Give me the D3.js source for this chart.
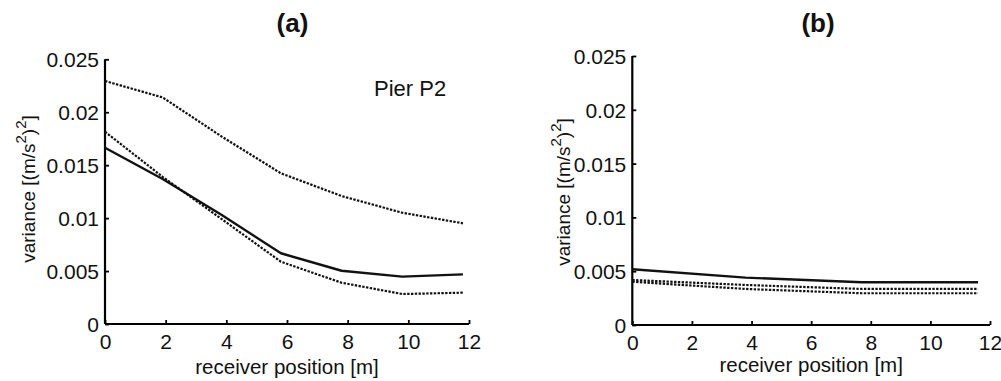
<!DOCTYPE html>
<html>
<head>
<meta charset="utf-8">
<script src="https://cdn.jsdelivr.net/npm/d3@7"></script>
<style>
  html, body { margin: 0; padding: 0; background: #fff; }
  svg { display: block; font-family: "Liberation Sans", Arial, sans-serif; }
</style>
</head>
<body>
<svg id="chart" width="1001" height="381"></svg>
<script>
// Receiver positions [m]
const posA = [0, 1.9, 3.85, 5.8, 7.8, 9.8, 11.8];
const posB = [0, 3.8, 7.7, 11.6];

// Panel (a): Pier P2 variances [(m/s^2)^2]
const aSolid   = [0.01665, 0.0137, 0.0103, 0.00668, 0.00503, 0.00447, 0.00469];
const aDotLow  = [0.01816, 0.0139, 0.0099, 0.00588, 0.0039, 0.00283, 0.00296];
const aDotHigh = [0.02295, 0.0214, 0.0177, 0.01423, 0.01209, 0.01051, 0.00951];

// Panel (b)
const bSolid   = [0.00518, 0.0044, 0.00397, 0.00397];
const bDotHigh = [0.00418, 0.00372, 0.00335, 0.00335];
const bDotLow  = [0.00402, 0.00335, 0.00295, 0.00295];

const xTicks = [0, 2, 4, 6, 8, 10, 12];
const yTicks = [0, 0.005, 0.01, 0.015, 0.02, 0.025];
const yTickLabels = ["0", "0.005", "0.01", "0.015", "0.02", "0.025"];

const svg = d3.select("#chart");

function panel(cfg) {
  const x = d3.scaleLinear().domain([0, 12]).range([cfg.x0, cfg.x1]);
  const y = d3.scaleLinear().domain([0, 0.025]).range([cfg.y0, cfg.y1]);
  const g = svg.append("g");

  // axes: ticks point inward
  const xAxis = d3.axisBottom(x).tickValues(xTicks).tickSize(-4).tickPadding(0).tickFormat(d3.format("d"));
  const yAxis = d3.axisLeft(y).tickValues(yTicks).tickSize(-4).tickPadding(0)
      .tickFormat((d, i) => yTickLabels[i]);

  const gx = g.append("g").attr("transform", `translate(0,${cfg.y0})`).call(xAxis);
  const gy = g.append("g").attr("transform", `translate(${cfg.x0},0)`).call(yAxis);

  [gx, gy].forEach(a => {
    a.attr("font-size", null).attr("font-family", null);
    a.select(".domain").attr("stroke", "#000").attr("stroke-width", 2.2);
    a.selectAll(".tick line").attr("stroke", "#000").attr("stroke-width", 1.8);
    a.selectAll(".tick text").attr("fill", "#111").style("font-size", "21px");
  });
  gx.select(".domain").attr("d", `M${cfg.x0},0H${cfg.x1}`);
  gy.select(".domain").attr("d", `M0,${cfg.y0}V${cfg.y1}`);
  gx.selectAll(".tick text").attr("dy", null).attr("y", 25);
  gy.selectAll(".tick text").attr("x", -6).attr("dy", "0.36em");

  const line = d3.line().x(d => x(d[0])).y(d => y(d[1]));
  cfg.series.forEach(s => {
    g.append("path")
      .datum(cfg.pos.map((p, i) => [p, s.values[i]]))
      .attr("fill", "none")
      .attr("stroke", "#111")
      .attr("stroke-width", s.dotted ? 2.2 : 2.4)
      .attr("stroke-dasharray", s.dotted ? "2.4,1.4" : null)
      .attr("stroke-linejoin", "round")
      .attr("d", line);
  });

  // title
  g.append("text").attr("x", cfg.tx).attr("y", 32).attr("text-anchor", "middle")
    .style("font-size", "26px").style("font-weight", "bold").attr("fill", "#111")
    .text(cfg.title);

  // x label
  g.append("text").attr("x", (cfg.x0 + cfg.x1) / 2).attr("y", cfg.xly)
    .attr("text-anchor", "middle").style("font-size", "20.5px").attr("fill", "#111")
    .text("receiver position [m]");

  // y label with superscripts
  const yl = g.append("text")
    .attr("transform", `translate(${cfg.ylx},${cfg.yly}) rotate(-90)`)
    .attr("text-anchor", "middle").style("font-size", "19px").attr("fill", "#111");
  yl.append("tspan").text("variance [(m/s");
  yl.append("tspan").attr("dy", -9).style("font-size", "15px").text("2");
  yl.append("tspan").attr("dy", 9).text(")");
  yl.append("tspan").attr("dy", -9).style("font-size", "15px").text("2");
  yl.append("tspan").attr("dy", 9).text("]");
  return g;
}

panel({
  x0: 105, x1: 469, y0: 324, y1: 59.3, pos: posA, title: "(a)", tx: 292.5,
  xly: 374, ylx: 35, yly: 189,
  series: [
    { values: aDotHigh, dotted: true },
    { values: aDotLow, dotted: true },
    { values: aSolid, dotted: false }
  ]
});

svg.append("text").attr("x", 374).attr("y", 95.5).style("font-size", "22px").attr("fill", "#111")
  .text("Pier P2");

panel({
  x0: 632.3, x1: 990, y0: 325, y1: 56, pos: posB, title: "(b)", tx: 818,
  xly: 371.5, ylx: 570, yly: 192,
  series: [
    { values: bDotHigh, dotted: true },
    { values: bDotLow, dotted: true },
    { values: bSolid, dotted: false }
  ]
});
</script>
</body>
</html>
